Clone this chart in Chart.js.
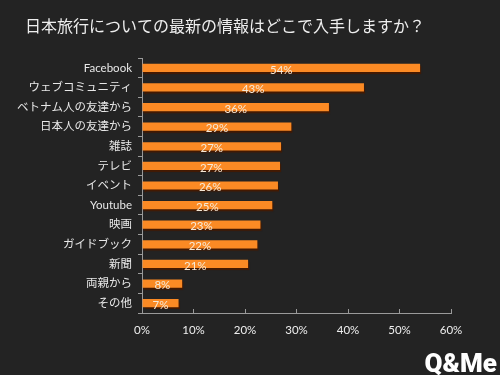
<!DOCTYPE html>
<html><head><meta charset="utf-8">
<script src="https://cdn.jsdelivr.net/npm/chart.js@4.4.0/dist/chart.umd.min.js"></script>
<style>html,body{margin:0;padding:0;background:#232323;}#wrap{width:500px;height:375px;position:relative;}</style>
</head><body><div id="wrap"><canvas id="c" width="500" height="375"></canvas></div>
<script>
const title = "日本旅行についての最新の情報はどこで入手しますか？";
const categories = ["Facebook","ウェブコミュニティ","ベトナム人の友達から","日本人の友達から","雑誌","テレビ","イベント","Youtube","映画","ガイドブック","新聞","両親から","その他"];
const values = [54.0, 43.1, 36.3, 29.0, 27.0, 26.8, 26.4, 25.3, 23.0, 22.4, 20.6, 7.8, 7.1];
const valueLabels = ["54%","43%","36%","29%","27%","27%","26%","25%","23%","22%","21%","8%","7%"];
const xTicks = [0,10,20,30,40,50,60];
const FONT = "'Lato','Noto Sans CJK JP',sans-serif";

const deco = {
  id:'deco',
  beforeDraw(chart){
    const c = chart.ctx;
    c.save();
    c.fillStyle = '#232323';
    c.fillRect(0,0,chart.width,chart.height);
    c.fillStyle = '#eeeeee';
    c.font = "16px 'Noto Sans CJK JP'";
    c.textBaseline = 'middle';
    c.fillText(title, 25, 26);
    c.restore();
  },
  beforeDatasetsDraw(chart){
    const c = chart.ctx;
    c.save();
    c.shadowColor = 'rgba(70,25,0,0.95)';
    c.shadowOffsetX = 1;
    c.shadowOffsetY = 2;
    c.shadowBlur = 1;
  },
  afterDatasetsDraw(chart){
    const c = chart.ctx;
    c.restore();
    c.save();
    const meta = chart.getDatasetMeta(0);
    c.fillStyle = '#f6ead8';
    c.font = "11.5px " + FONT;
    c.textAlign = 'center';
    c.textBaseline = 'middle';
    meta.data.forEach((b,i)=>{
      const x = (b.base + b.x)/2;
      c.fillText(valueLabels[i], x, b.y + 2);
    });
    // logo
    c.fillStyle = '#ffffff';
    c.font = "900 26px 'Liberation Sans Narrow','Roboto',sans-serif";
    c.textAlign = 'right';
    c.textBaseline = 'alphabetic';
    c.fillText('Q&Me', 497, 372);
    c.restore();
  }
};

new Chart(document.getElementById('c'), {
  type:'bar',
  data:{ labels: categories, datasets:[{ data: values, backgroundColor:'#fb8a24', borderWidth:0, barPercentage:0.42, categoryPercentage:1.0 }]},
  options:{
    indexAxis:'y', responsive:false, animation:false,
    layout:{ padding:{ left:0, right:49, top:58, bottom:0 } },
    plugins:{ legend:{display:false}, tooltip:{enabled:false}, title:{display:false} },
    scales:{
      x:{ min:0, max:60,
        afterBuildTicks(s){ s.ticks = xTicks.map(v=>({value:v})); },
        afterFit(s){ s.height = 62; },
        grid:{ display:true, drawOnChartArea:false, drawTicks:true, tickLength:-4, color:'#9a9a9a' },
        border:{ display:true, color:'#9a9a9a', width:1 },
        ticks:{ color:'#eeeeee', font:{ size:11.5, family:FONT }, padding:14, callback:(v)=>v+'%' }
      },
      y:{
        afterFit(s){ s.width = 142; },
        grid:{ display:true, offset:true, drawOnChartArea:false, drawTicks:true, tickLength:4, color:'#9a9a9a' },
        border:{ display:true, color:'#9a9a9a', width:1 },
        ticks:{ color:'#e8e8e8', font:{ size:11.5, family:FONT }, padding:6 }
      }
    }
  },
  plugins:[deco]
});
</script></body></html>
